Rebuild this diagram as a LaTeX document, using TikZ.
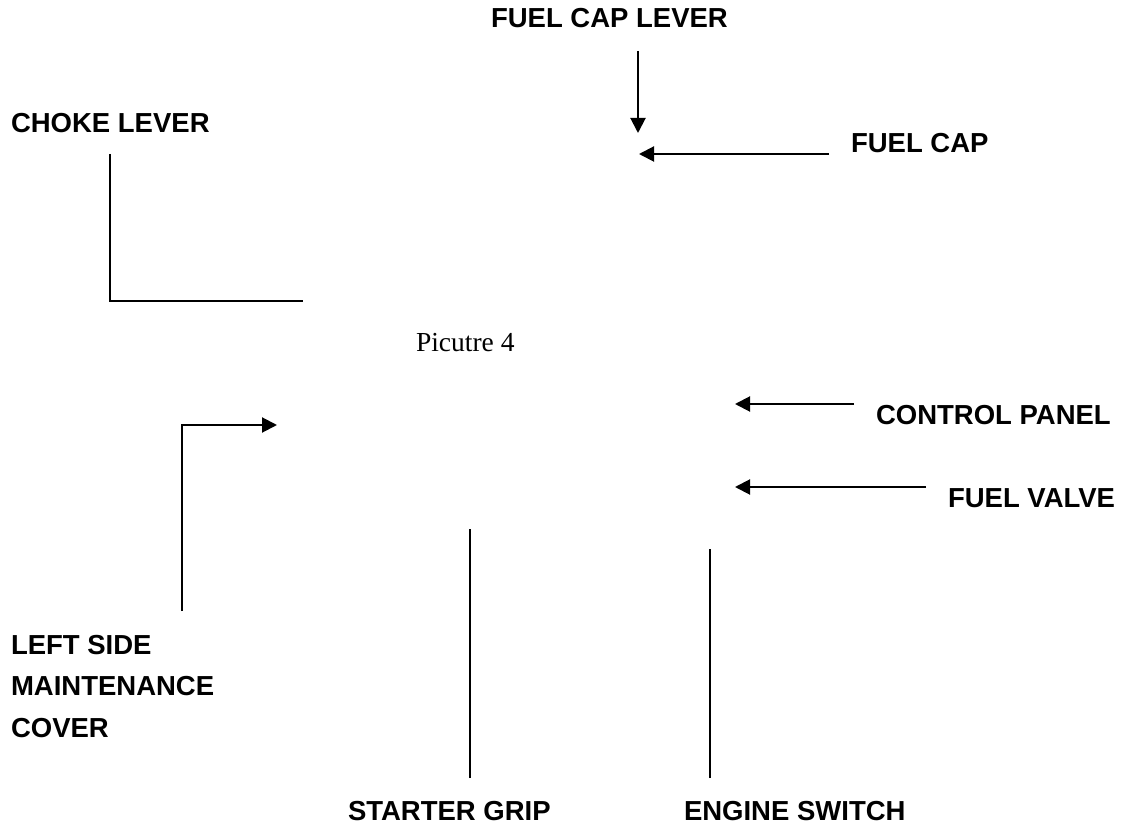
\documentclass[tikz,border=0pt]{standalone}
\usepackage{fontspec}
\setmainfont{Liberation Sans}
\newfontfamily\picfont{Liberation Serif}
\usetikzlibrary{arrows.meta}

\begin{document}
\begin{tikzpicture}[x=0.5pt, y=-0.5pt, line width=1pt, >={Triangle[length=7.5pt, width=7.5pt]},
    lbl/.style={font=\bfseries\fontsize{13.75}{20.75}\selectfont, inner sep=0pt, anchor=base west, align=left}]
    \useasboundingbox (0,0) rectangle (1125,828);
    % labels
    \node[lbl] (caplever) at (490,28) {FUEL CAP LEVER};
    \node[lbl] (choke) at (10,133) {CHOKE LEVER};
    \node[lbl] (cap) at (850,153) {FUEL CAP};
    \node[inner sep=0pt, anchor=base west, font=\picfont\fontsize{13.75}{16}\selectfont] (caption) at (415,352) {Picutre 4};
    \node[lbl] (panel) at (875,425) {CONTROL PANEL};
    \node[lbl] (valve) at (947,508) {FUEL VALVE};
    % base of a multi-line node is its last line
    \node[lbl] (cover) at (10,737) {LEFT SIDE\\MAINTENANCE\\COVER};
    \node[lbl] (grip) at (347,820) {STARTER GRIP};
    \node[lbl] (switch) at (683,820) {ENGINE SWITCH};
    % leader ends
    \coordinate (caplevera) at (638,51);
    \coordinate (capleverb) at (638,133);
    \coordinate (capa) at (829,154);
    \coordinate (capb) at (639,154);
    \coordinate (chokea) at (110,154);
    \coordinate (chokeb) at (303,301);
    \coordinate (covera) at (182,611);
    \coordinate (coverb) at (277,425);
    \coordinate (panela) at (854,404);
    \coordinate (panelb) at (735,404);
    \coordinate (valvea) at (926,487);
    \coordinate (valveb) at (735,487);
    \coordinate (gripa) at (470,778);
    \coordinate (gripb) at (470,529);
    \coordinate (switcha) at (710,778);
    \coordinate (switchb) at (710,549);
    % leaders
    \draw[->] (caplevera) -- (capleverb);
    \draw[->] (capa) -- (capb);
    \draw (chokea) |- (chokeb);
    \draw[->] (covera) |- (coverb);
    \draw[->] (panela) -- (panelb);
    \draw[->] (valvea) -- (valveb);
    \draw (gripa) -- (gripb);
    \draw (switcha) -- (switchb);
\end{tikzpicture}
\end{document}
